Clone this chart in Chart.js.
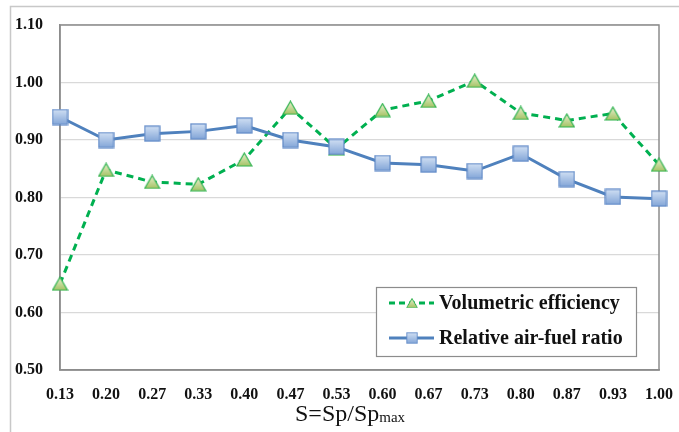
<!DOCTYPE html>
<html><head><meta charset="utf-8">
<script src="https://cdn.jsdelivr.net/npm/chart.js@4.4.0/dist/chart.umd.min.js"></script>
<style>html,body{margin:0;padding:0;background:#fff}#wrap{width:679px;height:432px}</style>
</head><body><div id="wrap"><canvas id="c" width="679" height="432"></canvas></div>
<script>
const categories = ['0.13','0.20','0.27','0.33','0.40','0.47','0.53','0.60','0.67','0.73','0.80','0.87','0.93','1.00'];
const volumetricEfficiency = [0.650,0.848,0.827,0.823,0.866,0.956,0.885,0.952,0.968,1.003,0.947,0.934,0.946,0.857];
const relativeAirFuel = [0.940,0.900,0.911,0.915,0.925,0.900,0.888,0.860,0.857,0.846,0.876,0.832,0.801,0.798];
const yTicks = [0.5,0.6,0.7,0.8,0.9,1.0,1.1];
const seriesNames = ['Volumetric efficiency','Relative air-fuel ratio'];
const axisTitleMain = 'S=Sp/Sp';
const axisTitleSub = 'max';

const FONT = '"Liberation Serif", "Times New Roman", serif';

function makeTriangle(){
  const w=17,h=15,c=document.createElement('canvas');c.width=w;c.height=h;
  const g=c.getContext('2d');
  const gr=g.createLinearGradient(0,0,0,h);gr.addColorStop(0,'#eef4d8');gr.addColorStop(1,'#9fbf5c');
  g.beginPath();g.moveTo(w/2,1);g.lineTo(w-1,h-1);g.lineTo(1,h-1);g.closePath();
  g.fillStyle=gr;g.fill();g.strokeStyle='#2fb34f';g.lineWidth=1.2;g.stroke();
  return c;
}
function makeSquare(){
  const s=17,c=document.createElement('canvas');c.width=s;c.height=s;
  const g=c.getContext('2d');
  const gr=g.createLinearGradient(0,0,0,s);gr.addColorStop(0,'#d5e3f5');gr.addColorStop(1,'#7ea2d6');
  g.fillStyle=gr;g.fillRect(1,1,s-2,s-2);
  g.strokeStyle='#5f89c7';g.lineWidth=1.2;g.strokeRect(1,1,s-2,s-2);
  return c;
}
const tri=makeTriangle(), sq=makeSquare();

const decor = {
  id:'decor',
  beforeDraw(chart){
    const ctx=chart.ctx;ctx.save();
    ctx.strokeStyle='#c8c8c8';ctx.lineWidth=1.5;
    ctx.beginPath();ctx.moveTo(10.5,432);ctx.lineTo(10.5,6.5);ctx.lineTo(679,6.5);ctx.stroke();
    ctx.restore();
  },
  beforeDatasetsDraw(chart){
    const a=chart.chartArea,ctx=chart.ctx;ctx.save();
    ctx.strokeStyle='#8c8c8c';ctx.lineWidth=1.5;
    ctx.strokeRect(a.left,a.top,a.right-a.left,a.bottom-a.top);
    ctx.restore();
  },
  afterDraw(chart){
    const ctx=chart.ctx;ctx.save();
    ctx.fillStyle='#111';ctx.textBaseline='alphabetic';ctx.textAlign='left';
    ctx.font='24px '+FONT;
    const w1=ctx.measureText(axisTitleMain).width;
    const x0=295;
    ctx.fillText(axisTitleMain,x0,421);
    ctx.font='15px '+FONT;ctx.fillText(axisTitleSub,x0+w1,422);
    // legend
    const bx=376.5,by=287.5,bw=260,bh=69;
    ctx.fillStyle='#fff';ctx.fillRect(bx,by,bw,bh);
    ctx.strokeStyle='#8c8c8c';ctx.lineWidth=1.2;ctx.strokeRect(bx,by,bw,bh);
    const rows=[{y:303,color:'#00b050',dash:[6,4],img:tri},{y:338,color:'#4f81bd',dash:[],img:sq}];
    rows.forEach((r,i)=>{
      ctx.strokeStyle=r.color;ctx.lineWidth=3;ctx.setLineDash(r.dash);
      ctx.beginPath();ctx.moveTo(389,r.y);ctx.lineTo(434,r.y);ctx.stroke();ctx.setLineDash([]);
      const s=0.7;
      ctx.drawImage(r.img,412-r.img.width*s/2,r.y-r.img.height*s/2,r.img.width*s,r.img.height*s);
      ctx.fillStyle='#111';ctx.font='bold 20px '+FONT;ctx.textBaseline='middle';
      ctx.fillText(seriesNames[i],439,r.y+1);
    });
    ctx.restore();
  }
};

new Chart(document.getElementById('c'),{
  type:'line',
  data:{labels:categories,datasets:[
    {label:seriesNames[0],data:volumetricEfficiency,borderColor:'#00b050',borderWidth:3,borderDash:[7,5],
     pointStyle:tri,pointRadius:8,pointHoverRadius:8,backgroundColor:'#b5cf7a',tension:0,order:2},
    {label:seriesNames[1],data:relativeAirFuel,borderColor:'#4f81bd',borderWidth:3,
     pointStyle:sq,pointRadius:8,pointHoverRadius:8,backgroundColor:'#95b3d7',tension:0,order:1}
  ]},
  options:{
    responsive:false,animation:false,
    layout:{padding:{left:10,right:20,top:25,bottom:0}},
    plugins:{legend:{display:false},tooltip:{enabled:false}},
    scales:{
      x:{type:'category',offset:false,
        grid:{display:false,drawTicks:false},border:{color:'#8c8c8c',width:1.5},
        ticks:{color:'#111',font:{family:FONT,size:16,weight:'bold'},padding:15,maxRotation:0,autoSkip:false},
        afterFit(s){s.height=62;s.paddingLeft=0;s.paddingRight=0;}},
      y:{min:0.5,max:1.1,
        afterBuildTicks(s){s.ticks=yTicks.map(v=>({value:v}));},
        grid:{color:'#d9d9d9',lineWidth:1.2,drawTicks:false},border:{color:'#8c8c8c',width:1.5},
        ticks:{color:'#111',font:{family:FONT,size:16,weight:'bold'},padding:17,callback:v=>Number(v).toFixed(2)},
        afterFit(s){s.width=50;s.paddingTop=0;s.paddingBottom=0;}}
    }
  },
  plugins:[decor]
});
</script></body></html>
